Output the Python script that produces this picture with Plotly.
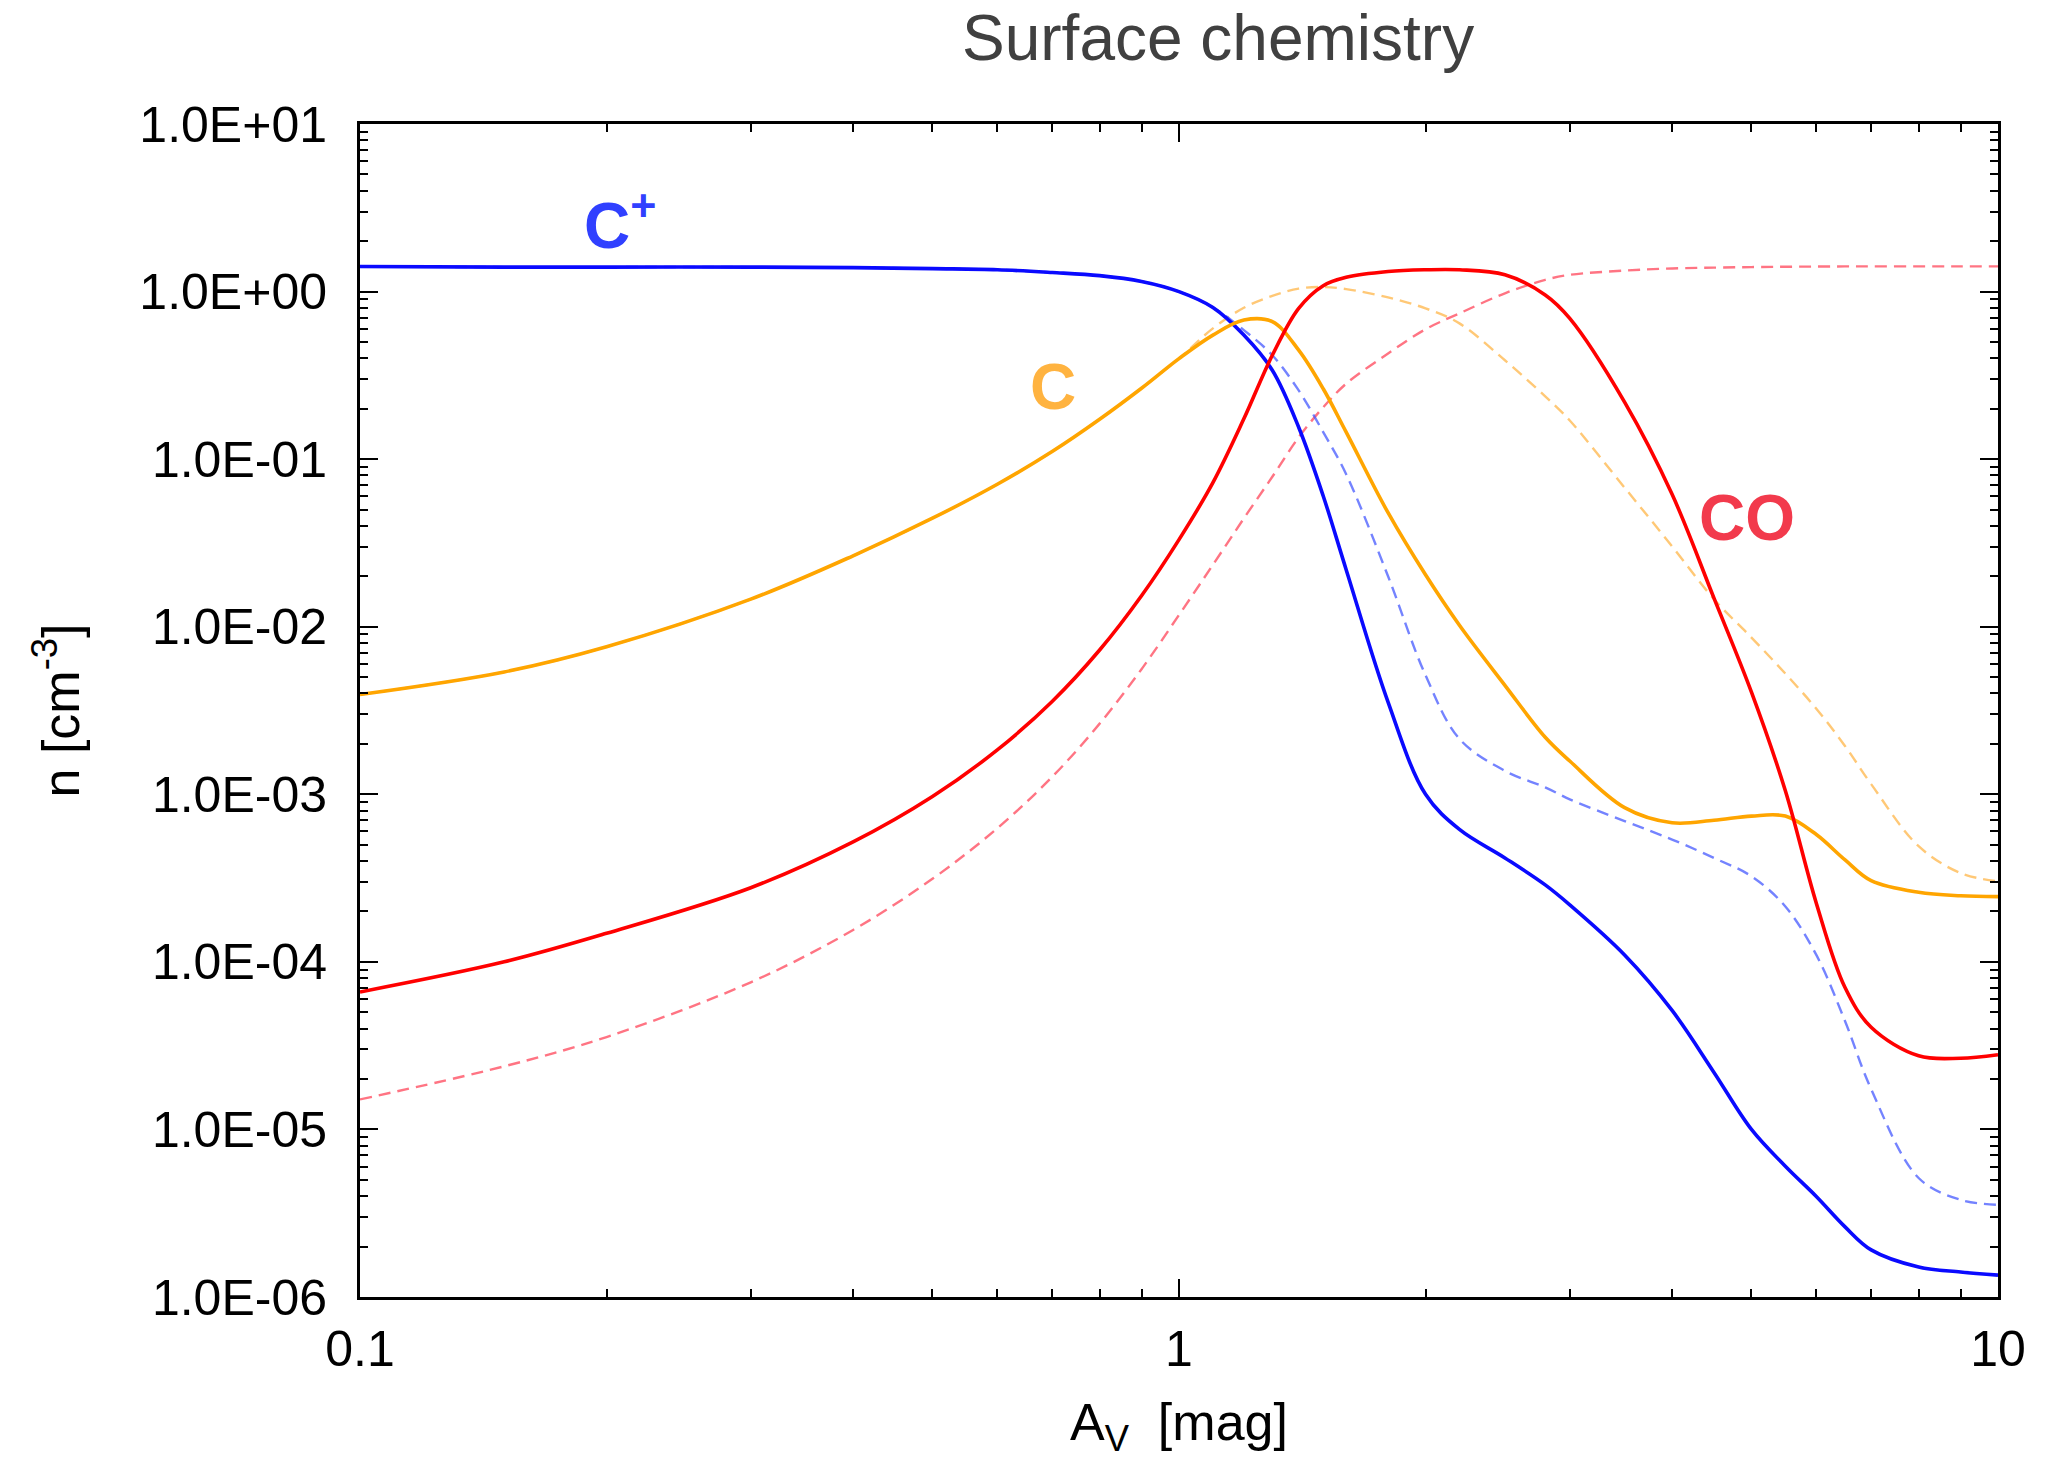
import plotly.graph_objects as go

# ---------------- data ----------------
Av = [0.1, 0.15, 0.2, 0.3, 0.4, 0.5, 0.6, 0.7, 0.8, 0.9, 1.0, 1.1, 1.2, 1.3, 1.4, 1.5, 1.6,
      1.8, 2.0, 2.2, 2.5, 2.8, 3.0, 3.5, 4.0, 4.5, 5.0, 5.5, 6.0, 6.5, 7.0, 8.0, 9.0, 10.0]

# C+ (solid) and its reference model (dashed)
cplus = [1.41, 1.40, 1.40, 1.40, 1.39, 1.37, 1.35, 1.30, 1.245, 1.15, 1.00, 0.804, 0.550, 0.339,
         0.155, 0.0603, 0.0219, 3.55e-3, 1.0e-3, 6.17e-4, 4.17e-4, 2.88e-4, 2.19e-4, 1.10e-4,
         5.13e-5, 2.19e-5, 1.0e-5, 6.03e-6, 3.98e-6, 2.63e-6, 1.91e-6, 1.51e-6, 1.41e-6, 1.35e-6]
cplus_dash = [1.41, 1.40, 1.40, 1.40, 1.39, 1.37, 1.35, 1.30, 1.245, 1.15, 1.00, 0.804, 0.589, 0.417,
              0.257, 0.145, 0.0813, 0.0200, 5.13e-3, 2.14e-3, 1.38e-3, 1.10e-3, 9.33e-4, 6.92e-4,
              5.37e-4, 4.17e-4, 3.24e-4, 2.14e-4, 1.10e-4, 4.47e-5, 1.74e-5, 5.13e-6, 3.80e-6, 3.55e-6]

# C (solid) and dashed
c_atom = [3.94e-3, 5.37e-3, 7.59e-3, 0.0146, 0.0265, 0.0444, 0.0708, 0.111, 0.173, 0.265, 0.398,
          0.55, 0.676, 0.661, 0.447, 0.263, 0.145, 0.0479, 0.0204, 0.0102, 4.47e-3, 2.19e-3,
          1.58e-3, 8.32e-4, 6.76e-4, 7.00e-4, 7.41e-4, 7.41e-4, 5.75e-4, 4.07e-4, 3.05e-4,
          2.60e-4, 2.48e-4, 2.45e-4]
c_atom_dash = [3.94e-3, 5.37e-3, 7.59e-3, 0.0146, 0.0265, 0.0444, 0.0708, 0.111, 0.173, 0.265,
               0.398, 0.603, 0.800, 0.942, 1.042, 1.064, 1.035, 0.923, 0.794, 0.646, 0.389, 0.237,
               0.170, 0.0676, 0.0302, 0.0146, 8.61e-3, 5.25e-3, 3.24e-3, 1.95e-3, 1.15e-3,
               4.90e-4, 3.39e-4, 3.02e-4]

# CO (solid) and dashed
co = [6.61e-5, 1.0e-4, 1.48e-4, 2.77e-4, 5.20e-4, 9.70e-4, 1.84e-3, 3.58e-3, 7.26e-3, 0.0153,
      0.0331, 0.0724, 0.174, 0.417, 0.794, 1.084, 1.216, 1.318, 1.349, 1.349, 1.259, 0.955, 0.692,
      0.219, 0.0617, 0.0148, 4.07e-3, 1.05e-3, 2.24e-4, 7.08e-5, 4.07e-5, 2.75e-5, 2.66e-5, 2.79e-5]
co_dash = [1.51e-5, 2.38e-5, 3.56e-5, 7.55e-5, 1.55e-4, 3.13e-4, 6.27e-4, 1.27e-3, 2.64e-3,
           5.58e-3, 0.01175, 0.0234, 0.0443, 0.0785, 0.135, 0.204, 0.282, 0.427, 0.596, 0.741,
           0.977, 1.175, 1.259, 1.334, 1.374, 1.390, 1.400, 1.406, 1.41, 1.413, 1.413, 1.413,
           1.413, 1.413]

y_tickvals = [1e-6, 1e-5, 1e-4, 1e-3, 1e-2, 1e-1, 1e0, 1e1]
y_ticktext = ["1.0E-06", "1.0E-05", "1.0E-04", "1.0E-03", "1.0E-02", "1.0E-01", "1.0E+00", "1.0E+01"]
x_tickvals = [0.1, 1, 10]
x_ticktext = ["0.1", "1", "10"]

title_text = "Surface chemistry"
x_title = "A<sub>V</sub>  [mag]"
y_title = "n [cm<sup>-3</sup>]"

# ---------------- styling ----------------
FONT = "Liberation Sans, Arial, Helvetica, sans-serif"
BLUE, ORANGE, RED = "#0a0aff", "#ffa500", "#ff0000"
BLUE_D, ORANGE_D, RED_D = "rgba(70,90,255,0.75)", "rgba(255,176,60,0.7)", "rgba(255,70,90,0.75)"

fig = go.Figure()

def add(y, color, width, dash=None):
    fig.add_trace(go.Scatter(
        x=Av, y=y, mode="lines",
        line=dict(color=color, width=width, dash=dash, shape="spline", smoothing=1.0),
        showlegend=False, hoverinfo="skip"))

add(co_dash, RED_D, 2.4, "12px,7px")
add(c_atom_dash, ORANGE_D, 2.4, "12px,7px")
add(cplus_dash, BLUE_D, 2.4, "12px,7px")
add(cplus, BLUE, 3.6)
add(c_atom, ORANGE, 3.6)
add(co, RED, 3.6)

minor_y = [m * 10.0 ** e for e in range(-6, 1) for m in range(2, 10)]
minor_x = [m * 10.0 ** e for e in range(-1, 1) for m in range(2, 10)]

axis_common = dict(
    showline=True, linecolor="black", linewidth=3, mirror="allticks",
    ticks="inside", ticklen=18, tickwidth=2, tickcolor="black",
    showgrid=False, zeroline=False,
    tickfont=dict(family=FONT, size=50, color="black"),
)

fig.update_xaxes(type="log", range=[-1, 1], tickmode="array",
                 tickvals=x_tickvals, ticktext=x_ticktext,
                 minor=dict(tickmode="array", tickvals=minor_x, ticks="inside", ticklen=8,
                            tickwidth=2, tickcolor="black", showgrid=False),
                 ticklabelstandoff=6, **axis_common)
fig.update_yaxes(type="log", range=[-6, 1], tickmode="array",
                 tickvals=y_tickvals, ticktext=y_ticktext,
                 minor=dict(tickmode="array", tickvals=minor_y, ticks="inside", ticklen=8,
                            tickwidth=2, tickcolor="black", showgrid=False),
                 ticklabelstandoff=20, **axis_common)

annotations = [
    dict(text=title_text, xref="paper", yref="paper", x=0.524, y=1.073, showarrow=False,
         xanchor="center", yanchor="middle", font=dict(family=FONT, size=64, color="#404040")),
    dict(text=x_title, xref="paper", yref="paper", x=0.5, y=-0.110, showarrow=False,
         xanchor="center", yanchor="middle", font=dict(family=FONT, size=52, color="black")),
    dict(text=y_title, xref="paper", yref="paper", x=-0.185, y=0.5, showarrow=False,
         textangle=-90, xanchor="center", yanchor="middle",
         font=dict(family=FONT, size=52, color="black")),
    dict(text="C<sup>+</sup>", xref="paper", yref="paper", x=0.1585, y=0.9175, showarrow=False,
         xanchor="center", yanchor="middle",
         font=dict(family=FONT, size=64, color="#3040ff", weight="bold")),
    dict(text="C", xref="paper", yref="paper", x=0.423, y=0.776, showarrow=False,
         xanchor="center", yanchor="middle",
         font=dict(family=FONT, size=64, color="#ffb340", weight="bold")),
    dict(text="CO", xref="paper", yref="paper", x=0.847, y=0.664, showarrow=False,
         xanchor="center", yanchor="middle",
         font=dict(family=FONT, size=64, color="#f23a4c", weight="bold")),
]

fig.update_layout(
    width=2048, height=1458,
    margin=dict(l=360, r=50, t=124, b=161, autoexpand=False),
    paper_bgcolor="white", plot_bgcolor="white",
    annotations=annotations,
    font=dict(family=FONT),
)

fig.write_html("out.html")
